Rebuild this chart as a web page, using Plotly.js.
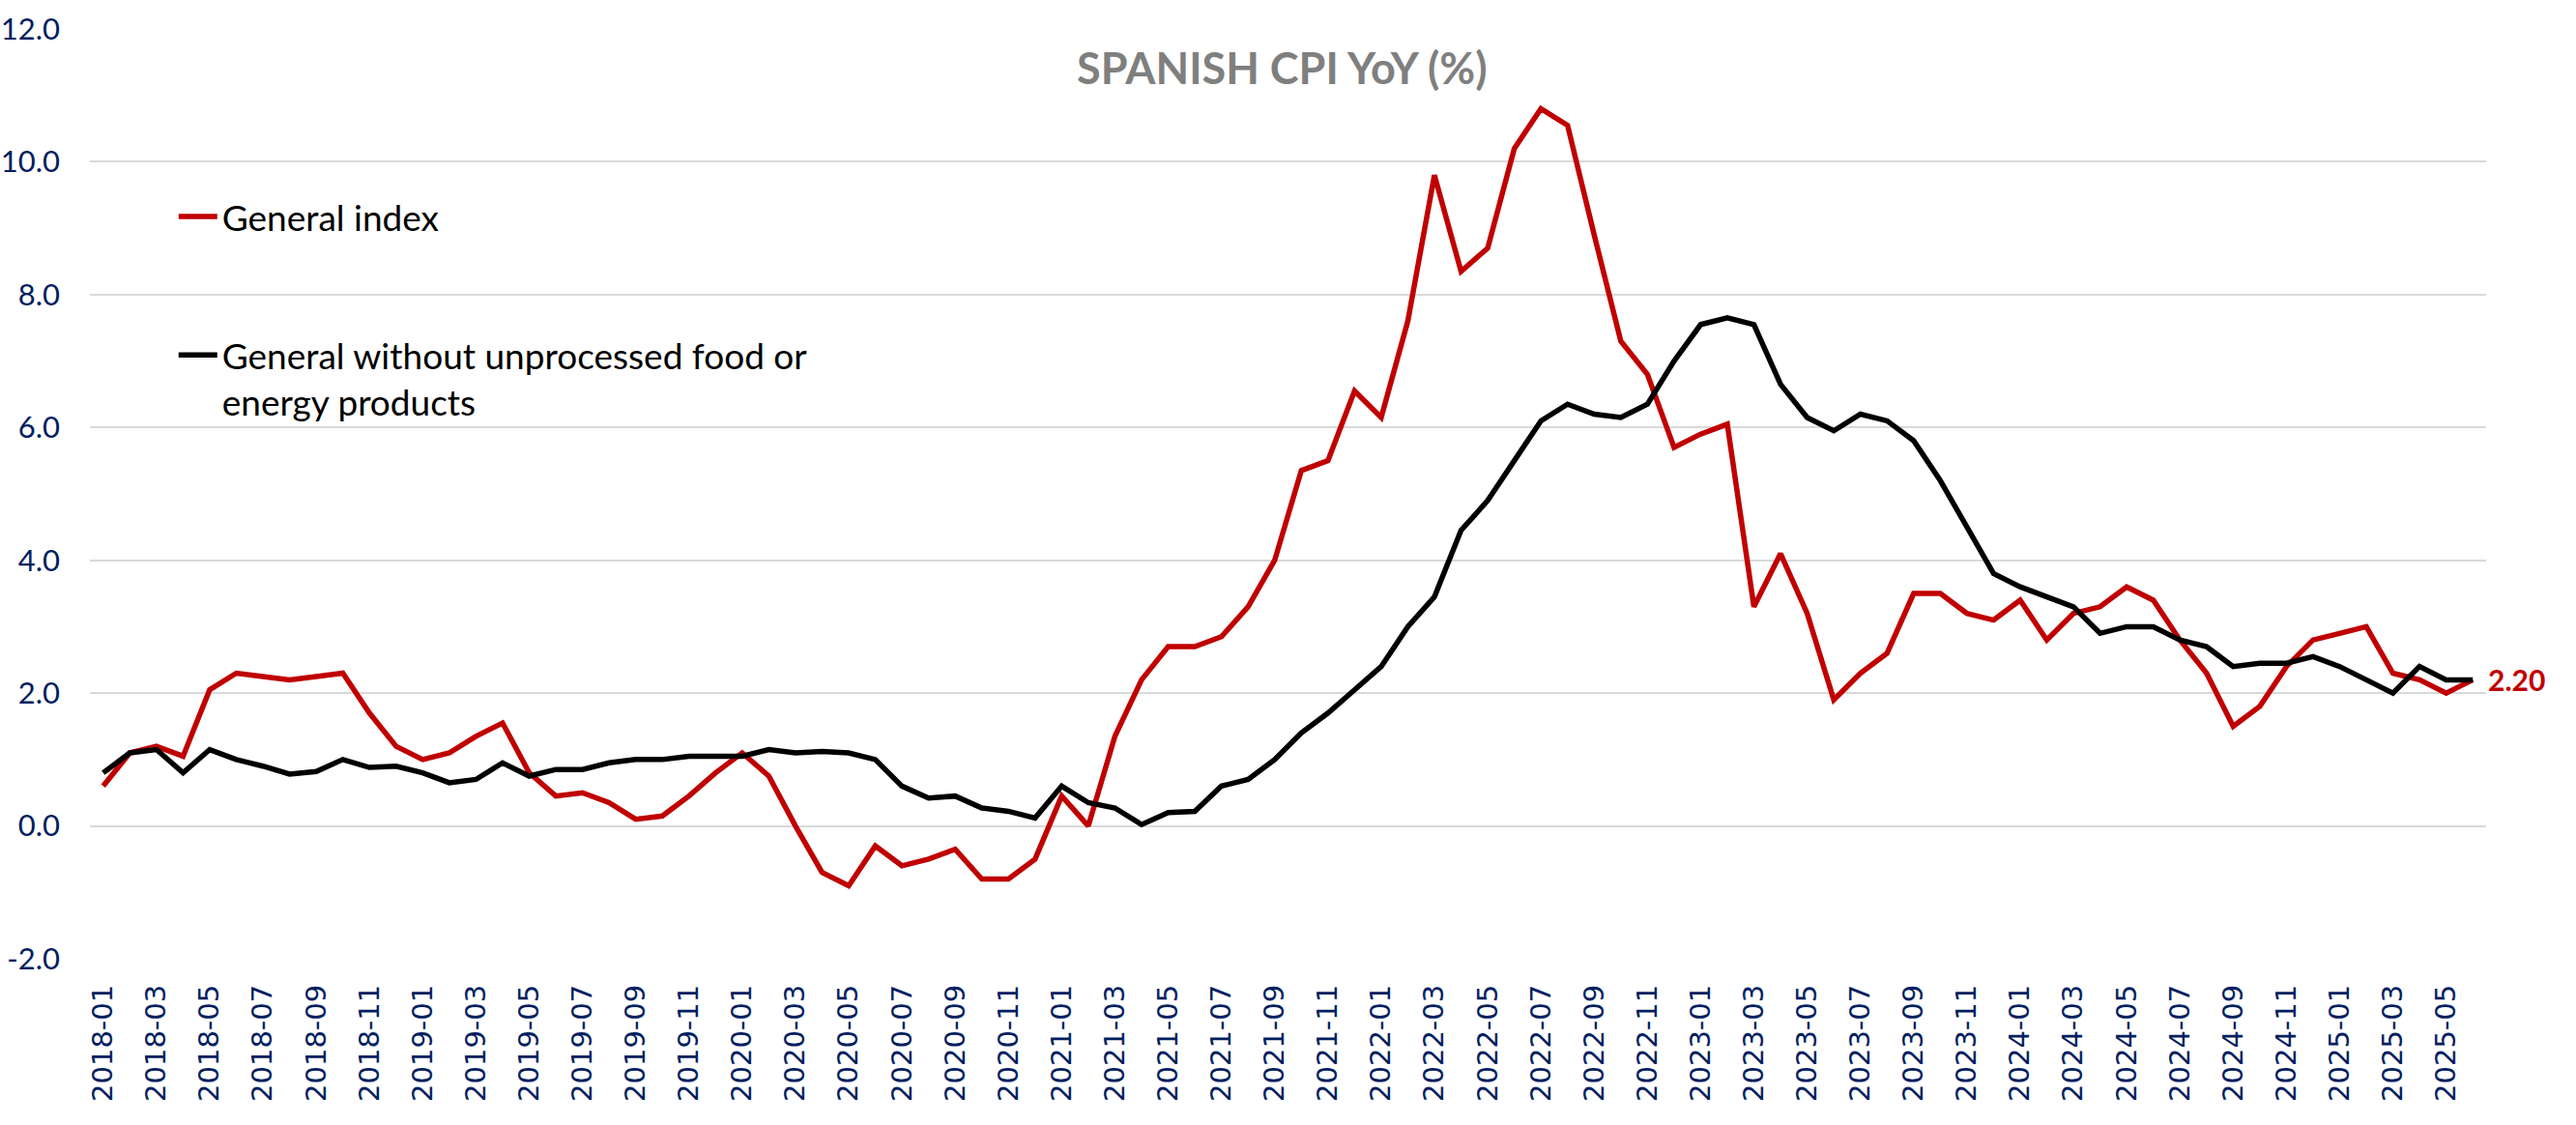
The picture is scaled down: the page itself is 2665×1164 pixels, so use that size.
<!DOCTYPE html>
<html>
<head>
<meta charset="utf-8">
<script src="https://cdn.plot.ly/plotly-3.0.1.min.js"></script>
<style>html,body{margin:0;padding:0;background:#fff}#chart{width:2665px;height:1164px}</style>
</head>
<body>
<div id="chart"></div>
<script>
var months = [
"2018-01","2018-02","2018-03","2018-04","2018-05","2018-06","2018-07","2018-08","2018-09","2018-10","2018-11","2018-12",
"2019-01","2019-02","2019-03","2019-04","2019-05","2019-06","2019-07","2019-08","2019-09","2019-10","2019-11","2019-12",
"2020-01","2020-02","2020-03","2020-04","2020-05","2020-06","2020-07","2020-08","2020-09","2020-10","2020-11","2020-12",
"2021-01","2021-02","2021-03","2021-04","2021-05","2021-06","2021-07","2021-08","2021-09","2021-10","2021-11","2021-12",
"2022-01","2022-02","2022-03","2022-04","2022-05","2022-06","2022-07","2022-08","2022-09","2022-10","2022-11","2022-12",
"2023-01","2023-02","2023-03","2023-04","2023-05","2023-06","2023-07","2023-08","2023-09","2023-10","2023-11","2023-12",
"2024-01","2024-02","2024-03","2024-04","2024-05","2024-06","2024-07","2024-08","2024-09","2024-10","2024-11","2024-12",
"2025-01","2025-02","2025-03","2025-04","2025-05","2025-06"];

var generalIndex = [
0.6,1.1,1.2,1.05,2.05,2.3,2.25,2.2,2.25,2.3,1.7,1.2,
1.0,1.1,1.35,1.55,0.8,0.45,0.5,0.35,0.1,0.15,0.45,0.8,
1.1,0.75,0.0,-0.7,-0.9,-0.3,-0.6,-0.5,-0.35,-0.8,-0.8,-0.5,
0.45,0.0,1.35,2.2,2.7,2.7,2.85,3.3,4.0,5.35,5.5,6.55,
6.15,7.6,9.8,8.35,8.7,10.2,10.8,10.55,8.9,7.3,6.8,5.7,
5.9,6.05,3.3,4.1,3.2,1.9,2.3,2.6,3.5,3.5,3.2,3.1,
3.4,2.8,3.2,3.3,3.6,3.4,2.8,2.3,1.5,1.8,2.4,2.8,
2.9,3.0,2.3,2.2,2.0,2.2];

var coreIndex = [
0.8,1.1,1.15,0.8,1.15,1.0,0.9,0.78,0.82,1.0,0.88,0.9,
0.8,0.65,0.7,0.95,0.75,0.85,0.85,0.95,1.0,1.0,1.05,1.05,
1.05,1.15,1.1,1.12,1.1,1.0,0.6,0.42,0.45,0.27,0.22,0.12,
0.6,0.35,0.27,0.02,0.2,0.22,0.6,0.7,1.0,1.4,1.7,2.05,
2.4,3.0,3.45,4.45,4.9,5.5,6.1,6.35,6.2,6.15,6.35,7.0,
7.55,7.65,7.55,6.65,6.15,5.95,6.2,6.1,5.8,5.2,4.5,3.8,
3.6,3.45,3.3,2.9,3.0,3.0,2.8,2.7,2.4,2.45,2.45,2.55,
2.4,2.2,2.0,2.4,2.2,2.2];

var seriesNames = ["General index", "General without unprocessed food or<br>energy products"];
var yTicks = [-2, 0, 2, 4, 6, 8, 10, 12];
var yTickText = ["-2.0","0.0","2.0","4.0","6.0","8.0","10.0","12.0"];
var xTicks = months.filter(function(m, i){ return i % 2 === 0; });
var lastLabel = "2.20";

var traces = [
  {x: months, y: generalIndex, type: "scatter", mode: "lines", name: seriesNames[0],
   legendgroup: "a", line: {color: "#C00000", width: 5.5}, cliponaxis: false},
  {x: months, y: coreIndex, type: "scatter", mode: "lines", name: seriesNames[1],
   legendgroup: "b", line: {color: "#000000", width: 5.5}, cliponaxis: false}
];

var layout = {
  width: 2665, height: 1164,
  paper_bgcolor: "#ffffff", plot_bgcolor: "#ffffff",
  margin: {l: 93, r: 93, t: 30, b: 172},
  showlegend: true,
  title: {text: "<b>SPANISH CPI YoY (%)</b>", x: 0.4975, xanchor: "center", y: 1 - 71/1164, yanchor: "middle",
          yref: "container", xref: "paper", font: {family: "Lato, 'Open Sans', sans-serif", size: 45, color: "#7F7F7F"}},
  xaxis: {type: "category", tickmode: "array", tickvals: xTicks, ticktext: xTicks, tickangle: -90,
          showgrid: false, showline: false, zeroline: false, ticks: "",
          ticklabelstandoff: 20,
          tickfont: {family: "'DejaVu Sans', Verdana, sans-serif", size: 29, color: "#002060"},
          range: [-0.5, months.length - 0.5]},
  yaxis: {range: [-2, 12], tickmode: "array", tickvals: yTicks, ticktext: yTickText,
          showgrid: true, gridcolor: "#D9D9D9", gridwidth: 2, zeroline: false, showline: false, ticks: "",
          ticklabelstandoff: 30,
          tickfont: {family: "Lato, 'Open Sans', sans-serif", size: 31, color: "#002060"}},
  legend: {x: 0.035, y: 0.83, xanchor: "left", yanchor: "top", bgcolor: "rgba(0,0,0,0)",
           traceorder: "grouped", tracegroupgap: 92, valign: "top", itemwidth: 40,
           font: {family: "Lato, 'Open Sans', sans-serif", size: 37, color: "#000000"}},
  annotations: [
    {x: months[months.length - 1], y: generalIndex[generalIndex.length - 1], xref: "x", yref: "y",
     text: "<b>" + lastLabel + "</b>", showarrow: false, xanchor: "left", yanchor: "middle", xshift: 14,
     font: {family: "Lato, 'Open Sans', sans-serif", size: 30, color: "#C00000"}}
  ]
};

Plotly.newPlot("chart", traces, layout, {displayModeBar: false, responsive: false});
</script>
</body>
</html>
